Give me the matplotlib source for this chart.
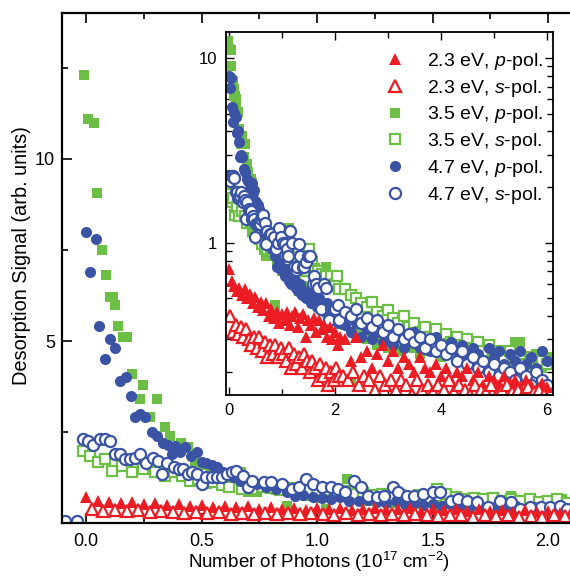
import numpy as np
import matplotlib.pyplot as plt
from matplotlib.ticker import MultipleLocator, LogLocator, NullFormatter, FixedLocator, FixedFormatter

plt.rcParams['font.family'] = 'Liberation Sans'
plt.rcParams['mathtext.fontset'] = 'custom'
plt.rcParams['mathtext.rm'] = 'Liberation Sans'
plt.rcParams['mathtext.it'] = 'Liberation Sans:italic'

red = '#EC1C24'
green = '#6DBE45'
blue = '#3A53A4'

# shared x positions beyond 2.1 (only seen in the inset)
tail_x = [2.2, 2.3, 2.4, 2.5, 2.6, 2.7, 2.8, 2.9, 3.0, 3.1, 3.2, 3.3, 3.4, 3.5, 3.6, 3.7,
          3.8, 3.9, 4.0, 4.1, 4.2, 4.3, 4.4, 4.5, 4.6, 4.7, 4.8, 4.9, 5.0, 5.1, 5.2, 5.3,
          5.4, 5.5, 5.6, 5.7, 5.8, 5.9, 6.0]
tail_xs = [2.15, 2.25, 2.35, 2.45, 2.55, 2.65, 2.75, 2.85, 2.95, 3.05, 3.15, 3.25, 3.35,
           3.45, 3.55, 3.65, 3.75, 3.85, 3.95, 4.05, 4.15, 4.25, 4.35, 4.45, 4.55, 4.65,
           4.75, 4.85, 4.95, 5.05, 5.15, 5.25, 5.35, 5.45, 5.55, 5.65, 5.75, 5.85, 5.95]

# 2.3 eV, p-pol
rp_x = [0.0, 0.05, 0.1, 0.15, 0.2, 0.25, 0.3, 0.35, 0.4, 0.45, 0.5, 0.55, 0.6, 0.65, 0.7,
        0.75, 0.8, 0.85, 0.9, 0.95, 1.0, 1.05, 1.1, 1.15, 1.2, 1.25, 1.3, 1.35, 1.4, 1.45,
        1.5, 1.55, 1.6, 1.65, 1.7, 1.75, 1.8, 1.85, 1.9, 1.95, 2.0, 2.05, 2.1] + tail_x
rp_y = [0.72, 0.62, 0.58, 0.55, 0.57, 0.52, 0.56, 0.50, 0.53, 0.47,
        0.51, 0.45, 0.48, 0.43, 0.47, 0.40, 0.44, 0.39, 0.42, 0.37,
        0.41, 0.38, 0.42, 0.36, 0.40, 0.42, 0.35, 0.39, 0.41, 0.31,
        0.38, 0.36, 0.39, 0.33, 0.38, 0.34, 0.36, 0.31, 0.35, 0.30,
        0.33, 0.28, 0.31,
        0.30, 0.23, 0.31, 0.24, 0.26, 0.21, 0.25, 0.28, 0.23, 0.26,
        0.21, 0.24, 0.22, 0.20, 0.24, 0.21, 0.20, 0.22, 0.19, 0.21,
        0.18, 0.20, 0.19, 0.21, 0.18, 0.20, 0.17, 0.19, 0.18, 0.17,
        0.19, 0.175, 0.18, 0.165, 0.18, 0.17, 0.16, 0.175, 0.165]

# 2.3 eV, s-pol
rs_x = [0.025, 0.075, 0.125, 0.175, 0.225, 0.275, 0.325, 0.375, 0.425, 0.475, 0.525,
        0.575, 0.625, 0.675, 0.725, 0.775, 0.825, 0.875, 0.925, 0.975, 1.025, 1.075,
        1.125, 1.175, 1.225, 1.275, 1.325, 1.375, 1.425, 1.475, 1.525, 1.575, 1.625,
        1.675, 1.725, 1.775, 1.825, 1.875, 1.925, 1.975, 2.025, 2.075] + tail_xs
rs_y = [0.40, 0.33, 0.36, 0.32, 0.35, 0.31, 0.34, 0.30, 0.28, 0.31,
        0.27, 0.31, 0.26, 0.29, 0.24, 0.28, 0.25, 0.28, 0.24, 0.27,
        0.25, 0.23, 0.27, 0.21, 0.25, 0.22, 0.24, 0.21, 0.25, 0.23,
        0.20, 0.23, 0.21, 0.18, 0.22, 0.19, 0.21, 0.17, 0.20, 0.18,
        0.21, 0.19,
        0.19, 0.18, 0.20, 0.17, 0.19, 0.18, 0.16, 0.19, 0.17, 0.18,
        0.16, 0.18, 0.17, 0.15, 0.18, 0.16, 0.17, 0.155, 0.17, 0.16,
        0.18, 0.155, 0.17, 0.16, 0.15, 0.17, 0.16, 0.155, 0.17, 0.15,
        0.16, 0.17, 0.155, 0.16, 0.15, 0.165, 0.155, 0.16, 0.15]

# 3.5 eV, p-pol
gp_x = [-0.01, 0.01, 0.035, 0.048, 0.07, 0.087, 0.104, 0.115, 0.125, 0.14,
        0.16, 0.177, 0.20, 0.234, 0.247, 0.277, 0.306, 0.34, 0.364, 0.41,
        0.44, 0.47, 0.50, 0.54, 0.58, 0.62, 0.67, 0.70, 0.74, 0.78,
        0.82, 0.87, 0.91, 0.95, 1.00, 1.04, 1.08, 1.13, 1.17, 1.22,
        1.27, 1.32, 1.37, 1.42, 1.47, 1.52, 1.57, 1.62, 1.67, 1.72,
        1.77, 1.84, 1.89, 1.94, 2.00, 2.06] + tail_x
gp_y = [12.3, 11.1, 11.0, 9.07, 7.5, 6.8, 6.2, 6.2, 6.0, 5.4,
        5.1, 5.1, 4.1, 3.4, 3.8, 2.9, 3.4, 2.65, 2.4, 2.2,
        2.1, 1.66, 1.6, 1.5, 1.35, 1.25, 1.39, 0.85, 0.85, 1.0,
        0.9, 0.46, 0.8, 0.75, 0.7, 0.38, 0.72, 1.2, 0.65, 0.6,
        0.62, 0.55, 0.58, 0.52, 0.55, 0.5, 0.52, 0.48, 0.5, 0.45,
        0.47, 0.74, 0.44, 0.42, 0.45, 0.66,
        0.36, 0.18, 0.32, 0.34, 0.30, 0.33, 0.28, 0.31, 0.27, 0.30,
        0.26, 0.29, 0.31, 0.27, 0.25, 0.28, 0.26, 0.31, 0.24, 0.27,
        0.25, 0.23, 0.26, 0.24, 0.28, 0.22, 0.25, 0.23, 0.26, 0.22,
        0.25, 0.23, 0.29, 0.29, 0.24, 0.22, 0.25, 0.21, 0.24]

# 3.5 eV, s-pol
gs_x = [-0.013, 0.017, 0.052, 0.082, 0.11, 0.156, 0.2, 0.247, 0.3, 0.34,
        0.38, 0.415, 0.45, 0.485, 0.52, 0.55, 0.59, 0.62, 0.675, 0.72,
        0.76, 0.80, 0.84, 0.88, 0.92, 0.96, 1.00, 1.04, 1.08, 1.12,
        1.16, 1.20, 1.24, 1.28, 1.32, 1.36, 1.40, 1.44, 1.48, 1.52,
        1.56, 1.60, 1.64, 1.68, 1.72, 1.76, 1.80, 1.84, 1.88, 1.92,
        1.96, 2.00, 2.04, 2.08] + tail_x
gs_y = [1.97, 1.83, 1.67, 1.75, 1.42, 1.56, 1.39, 1.48, 1.39, 1.28,
        1.39, 1.28, 1.15, 1.2, 1.1, 1.12, 1.05, 0.98, 0.93, 0.93,
        1.0, 0.95, 0.9, 0.96, 0.88, 0.92, 0.85, 0.9, 0.82, 0.88,
        0.8, 0.84, 0.76, 0.8, 0.74, 0.78, 0.72, 0.76, 0.7, 0.93,
        0.79, 0.72, 0.66, 0.7, 0.66, 0.68, 0.62, 0.66, 0.6, 0.66,
        0.58, 0.6, 0.66, 0.56,
        0.56, 0.52, 0.50, 0.47, 0.45, 0.48, 0.42, 0.40, 0.43, 0.39,
        0.37, 0.40, 0.35, 0.37, 0.33, 0.35, 0.31, 0.34, 0.30, 0.32,
        0.29, 0.31, 0.28, 0.30, 0.27, 0.29, 0.26, 0.28, 0.25, 0.26,
        0.24, 0.26, 0.23, 0.24, 0.22, 0.24, 0.21, 0.23, 0.22]

# 4.7 eV, p-pol
bp_x = [-0.09, -0.04, 0.0, 0.017, 0.043, 0.056, 0.082, 0.104, 0.125, 0.147,
        0.173, 0.195, 0.212, 0.234, 0.255, 0.286, 0.307, 0.333, 0.355, 0.372,
        0.385, 0.407, 0.428, 0.455, 0.48, 0.50, 0.52, 0.545, 0.567, 0.593,
        0.615, 0.636, 0.667, 0.70, 0.74, 0.78, 0.82, 0.87, 0.905, 0.94,
        0.98, 1.02, 1.06, 1.10, 1.14, 1.18, 1.22, 1.26, 1.30, 1.34,
        1.38, 1.42, 1.46, 1.50, 1.54, 1.58, 1.62, 1.66, 1.70, 1.74,
        1.78, 1.82, 1.86, 1.90, 1.94, 1.98, 2.02, 2.06, 2.10] + tail_x
bp_y = [0.05, 0.05, 8.0, 6.9, 7.8, 5.4, 4.5, 5.05, 4.8, 3.9,
        4.0, 3.5, 2.9, 3.0, 2.9, 2.5, 2.4, 2.2, 2.15, 1.9,
        2.13, 1.94, 2.1, 1.85, 1.94, 1.69, 1.66, 1.6, 1.53, 1.39,
        1.35, 1.26, 1.15, 1.12, 1.07, 0.98, 0.93, 0.85, 0.74, 0.78,
        0.72, 0.70, 0.66, 0.72, 0.62, 0.60, 0.64, 0.57, 0.55, 0.60,
        0.52, 0.55, 0.50, 0.53, 0.47, 0.52, 0.48, 0.45, 0.50, 0.44,
        0.46, 0.42, 0.47, 0.40, 0.43, 0.38, 0.41, 0.37, 0.40,
        0.36, 0.33, 0.37, 0.31, 0.34, 0.30, 0.33, 0.29, 0.32, 0.28,
        0.31, 0.27, 0.30, 0.33, 0.27, 0.29, 0.26, 0.31, 0.27, 0.25,
        0.29, 0.26, 0.28, 0.24, 0.27, 0.25, 0.23, 0.27, 0.24, 0.26,
        0.22, 0.25, 0.23, 0.26, 0.22, 0.24, 0.21, 0.26, 0.23]

# 4.7 eV, s-pol
bs_x = [-0.09, -0.04, -0.013, 0.009, 0.03, 0.06, 0.082, 0.104, 0.125, 0.147,
        0.17, 0.19, 0.21, 0.234, 0.26, 0.29, 0.31, 0.33, 0.35, 0.38,
        0.40, 0.42, 0.44, 0.46, 0.48, 0.50, 0.52, 0.545, 0.567, 0.59,
        0.61, 0.63, 0.65, 0.68, 0.70, 0.72, 0.77, 0.80, 0.85, 0.89,
        0.92, 0.95, 0.98, 1.02, 1.06, 1.09, 1.12, 1.16, 1.19, 1.22,
        1.26, 1.29, 1.33, 1.35, 1.39, 1.42, 1.46, 1.50, 1.53, 1.58,
        1.61, 1.65, 1.69, 1.74, 1.79, 1.84, 1.88, 1.92, 1.97, 2.01,
        2.05, 2.08] + tail_x
bs_y = [0.05, 0.05, 2.3, 2.25, 2.15, 2.3, 2.3, 2.25, 1.89, 1.89,
        1.75, 1.75, 1.8, 1.89, 1.66, 1.8, 1.7, 1.34, 1.66, 1.53,
        1.48, 1.48, 1.34, 1.39, 1.34, 1.07, 1.26, 1.26, 1.26, 1.26,
        1.34, 1.39, 1.42, 1.28, 0.98, 1.15, 1.12, 1.12, 1.07, 0.93,
        1.0, 1.2, 1.07, 1.0, 0.98, 0.93, 0.85, 1.15, 1.0, 0.74,
        0.71, 0.74, 0.98, 0.85, 0.74, 0.74, 0.79, 0.85, 0.85, 0.6,
        0.66, 0.6, 0.57, 0.44, 0.6, 0.57, 0.38, 0.44, 0.44, 0.44,
        0.46, 0.38,
        0.42, 0.40, 0.44, 0.37, 0.39, 0.35, 0.38, 0.33, 0.36, 0.31,
        0.34, 0.30, 0.32, 0.29, 0.31, 0.27, 0.30, 0.26, 0.28, 0.25,
        0.27, 0.23, 0.26, 0.22, 0.24, 0.21, 0.23, 0.20, 0.22, 0.19,
        0.21, 0.20, 0.18, 0.21, 0.19, 0.17, 0.20, 0.18, 0.17]

# drawing order: green, blue, red on top
series = [
    (gp_x, gp_y, 's', green, True, '3.5 eV, $p$-pol.'),
    (gs_x, gs_y, 's', green, False, '3.5 eV, $s$-pol.'),
    (bp_x, bp_y, 'o', blue, True, '4.7 eV, $p$-pol.'),
    (bs_x, bs_y, 'o', blue, False, '4.7 eV, $s$-pol.'),
    (rp_x, rp_y, '^', red, True, '2.3 eV, $p$-pol.'),
    (rs_x, rs_y, '^', red, False, '2.3 eV, $s$-pol.'),
]
sizes = {'s': 7.5, 'o': 8, '^': 8.5}

fig = plt.figure(figsize=(5.7, 5.78), dpi=100)
ax = fig.add_axes([0.109, 0.095, 0.9, 0.882])
ins = fig.add_axes([0.396, 0.3166, 0.5737, 0.628])

handles = {}
for x, y, m, c, filled, lab in series:
    for a in (ax, ins):
        ln, = a.plot(x, y, ls='none', marker=m, ms=sizes[m], color=c,
                     mfc=c if filled else 'white', mec=c, mew=0 if filled else 1.6,
                     label=lab)
    handles[lab] = ln

# main axes
ax.set_xlim(-0.104, 2.117)
ax.set_ylim(0, 14)
ax.xaxis.set_major_locator(FixedLocator([0.0, 0.5, 1.0, 1.5, 2.0]))
ax.xaxis.set_minor_locator(MultipleLocator(0.25))
ax.yaxis.set_major_locator(FixedLocator([5, 10]))
ax.yaxis.set_minor_locator(FixedLocator([2.5, 7.5, 12.5]))
ax.xaxis.set_major_formatter(FixedFormatter(['0.0', '0.5', '1.0', '1.5', '2.0']))
ax.tick_params(which='both', direction='in', top=True, right=False, width=1.2, labelsize=13)
ax.tick_params(which='major', length=7)
ax.tick_params(which='minor', length=4)
ax.tick_params(axis='x', pad=7)
ax.tick_params(axis='y', pad=5)
for s in ax.spines.values():
    s.set_linewidth(1.6)
ax.spines['right'].set_visible(False)
ax.set_xlabel('Number of Photons (10$^{17}$ cm$^{-2}$)', fontsize=13.5)
ax.set_ylabel('Desorption Signal (arb. units)', fontsize=14.4)
ax.xaxis.set_label_coords(0.5, -0.052)
ax.yaxis.set_label_coords(-0.06, 0.525)

# inset
ins.set_yscale('log')
ins.set_xlim(-0.06, 6.11)
ins.set_ylim(0.15, 13.8)
ins.xaxis.set_major_locator(FixedLocator([0, 2, 4, 6]))
ins.xaxis.set_minor_locator(FixedLocator([1, 3, 5]))
ins.yaxis.set_major_locator(FixedLocator([1, 10]))
ins.yaxis.set_major_formatter(FixedFormatter(['1', '10']))
ins.yaxis.set_minor_locator(LogLocator(base=10, subs=np.arange(2, 10)))
ins.yaxis.set_minor_formatter(NullFormatter())
ins.tick_params(which='both', direction='in', top=True, right=True, width=1.0, labelsize=12)
ins.tick_params(which='major', length=6)
ins.tick_params(which='minor', length=4)
ins.tick_params(axis='x', pad=6)
ins.tick_params(axis='y', pad=6)
for s in ins.spines.values():
    s.set_linewidth(1.3)

order = ['2.3 eV, $p$-pol.', '2.3 eV, $s$-pol.', '3.5 eV, $p$-pol.',
         '3.5 eV, $s$-pol.', '4.7 eV, $p$-pol.', '4.7 eV, $s$-pol.']
ins.legend([handles[k] for k in order], order, loc='upper right', frameon=False,
           fontsize=14, handlelength=1.5, handletextpad=0.9, labelspacing=0.3,
           borderaxespad=0, bbox_to_anchor=(0.994, 0.97))

fig.savefig('out.png', dpi=100)
